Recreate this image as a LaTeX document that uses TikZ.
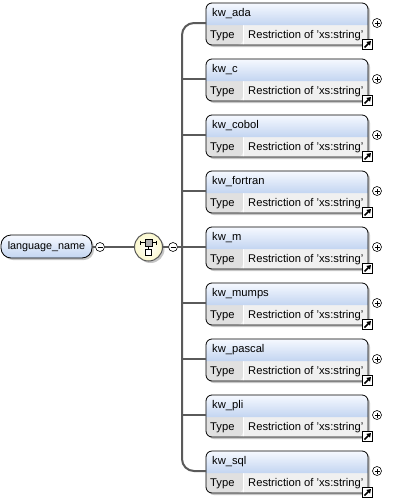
\documentclass[tikz,border=0pt]{standalone}
\usepackage{fontspec}
\setmainfont{Liberation Sans}
\usetikzlibrary{arrows.meta}

\definecolor{hdtop}{HTML}{F6F9FF}
\definecolor{hdbot}{HTML}{C3D5F1}
\definecolor{rowgray}{HTML}{F0F0F0}
\definecolor{typegray}{HTML}{E0E0E0}
\definecolor{linegray}{HTML}{5A5A5A}
\definecolor{seqfill}{HTML}{FBF8CC}

\tikzset{
    conn/.style={draw=linegray, line width=2pt},
    thinconn/.style={draw=linegray, line width=1.2pt},
    txt/.style={inner sep=0pt, anchor=west, font=\fontsize{11.2}{13}\selectfont},
    plusc/.style={circle, draw=black, fill=white, line width=0.6pt, minimum size=9pt, inner sep=0pt,
        path picture={
            \draw[line width=0.7pt] ([xshift=2pt]path picture bounding box.west) -- ([xshift=-2pt]path picture bounding box.east);
            \draw[line width=0.7pt] ([yshift=-2pt]path picture bounding box.north) -- ([yshift=2pt]path picture bounding box.south);
        }},
    minusc/.style={circle, draw=black, fill=white, line width=0.6pt, minimum size=9pt, inner sep=0pt,
        path picture={
            \draw[line width=0.7pt] ([xshift=2pt]path picture bounding box.west) -- ([xshift=-2pt]path picture bounding box.east);
        }},
    linkicon/.style={rectangle, draw=black, fill=white, line width=1pt, minimum size=10pt, inner sep=0pt,
        path picture={
            \draw[line width=1.6pt, -{Triangle[length=4pt,width=5pt]}]
                ([xshift=2pt,yshift=2pt]path picture bounding box.south west) -- ([xshift=-1.5pt,yshift=-1.5pt]path picture bounding box.north east);
        }}
}

\begin{document}
\begin{tikzpicture}[x=1pt, y=-1pt]
    \useasboundingbox (0,0) rectangle (400,498);

    % --- KORENSKI ELEMENT ---
    \fill[gray!45, rounded corners=10pt] (3,237) rectangle (94,260);
    \shade[top color=hdtop, bottom color=hdbot, draw=black, line width=0.8pt, rounded corners=10pt]
        (1,235) rectangle (92,258);
    \node[txt, anchor=center, font=\fontsize{10.8}{13}\selectfont] (root) at (46.5,246.5) {language\_name};
    \coordinate (rootE) at (92,247);

    \node[minusc] (m1) at (100,247) {};

    % Zaporedje (sequence)
    \fill[gray!45] (150.5,249) circle (14);
    \node[circle, draw=linegray, line width=1pt, inner color=white, outer color=seqfill,
        minimum size=28pt, inner sep=0pt] (seq) at (148.5,247) {};
    \draw[line width=1pt] (140.5,242.5) -- (156.5,242.5);
    \draw[line width=1pt] (140.5,240.5) -- (140.5,244.5);
    \draw[line width=1pt] (156.5,240.5) -- (156.5,244.5);
    \draw[line width=0.8pt] (148.5,245) -- (148.5,249);
    \draw[fill=gray!60, line width=0.8pt] (145,239) rectangle (152,246);
    \draw[fill=white, line width=0.8pt] (145.5,249) rectangle (151.5,255);

    \node[minusc] (m2) at (173,247) {};
    \coordinate (jn) at (182,247);

    \draw[thinconn] (rootE) -- (m1);
    \draw[thinconn] (m1) -- (seq);
    \draw[thinconn] (seq) -- (m2);
    \draw[thinconn] (m2) -- (jn);

    % --- OTROCI ---
    \foreach \nm [count=\i from 0] in {ada,c,cobol,fortran,m,mumps,pascal,pli,sql} {
        \pgfmathsetmacro{\y}{3+56*\i}
        % senca in ozadje
        \fill[gray!45, rounded corners=6pt] (208,\y+2) rectangle (370,\y+44);
        \fill[rowgray, rounded corners=6pt] (206,\y) rectangle (368,\y+42);
        \fill[typegray, rounded corners=6pt] (206,\y+22) -- (206,\y+42) -- (243,\y+42) [sharp corners] -- (243,\y+22) -- cycle;
        \draw[white, line width=0.8pt] (243.5,\y+22) -- (243.5,\y+42);
        \shade[top color=hdtop, bottom color=hdbot, rounded corners=6pt]
            (206,\y+22) -- (206,\y) -- (368,\y) [sharp corners] -- (368,\y+22) -- cycle;
        \draw[black, line width=0.8pt, rounded corners=6pt] (206,\y) rectangle (368,\y+42);
        \coordinate (c\i) at (206,\y+20);

        % besedila
        \node[txt] (n\i) at (212,\y+11) {kw\_\nm};
        \node[txt] (t\i) at (210,\y+32.5) {Type};
        \node[txt] (r\i) at (248,\y+32.5) {Restriction of 'xs:string'};

        % ikoni
        \node[plusc] (p\i) at (377,\y+20) {};
        \node[linkicon] (l\i) at (367.5,\y+41.5) {};
    }

    % Glavno deblo
    \draw[conn, rounded corners=12pt] (c0) -| (jn) |- (c8);
    \foreach \i in {1,...,7} {
        \draw[conn] (jn |- c\i) -- (c\i);
    }
\end{tikzpicture}
\end{document}
